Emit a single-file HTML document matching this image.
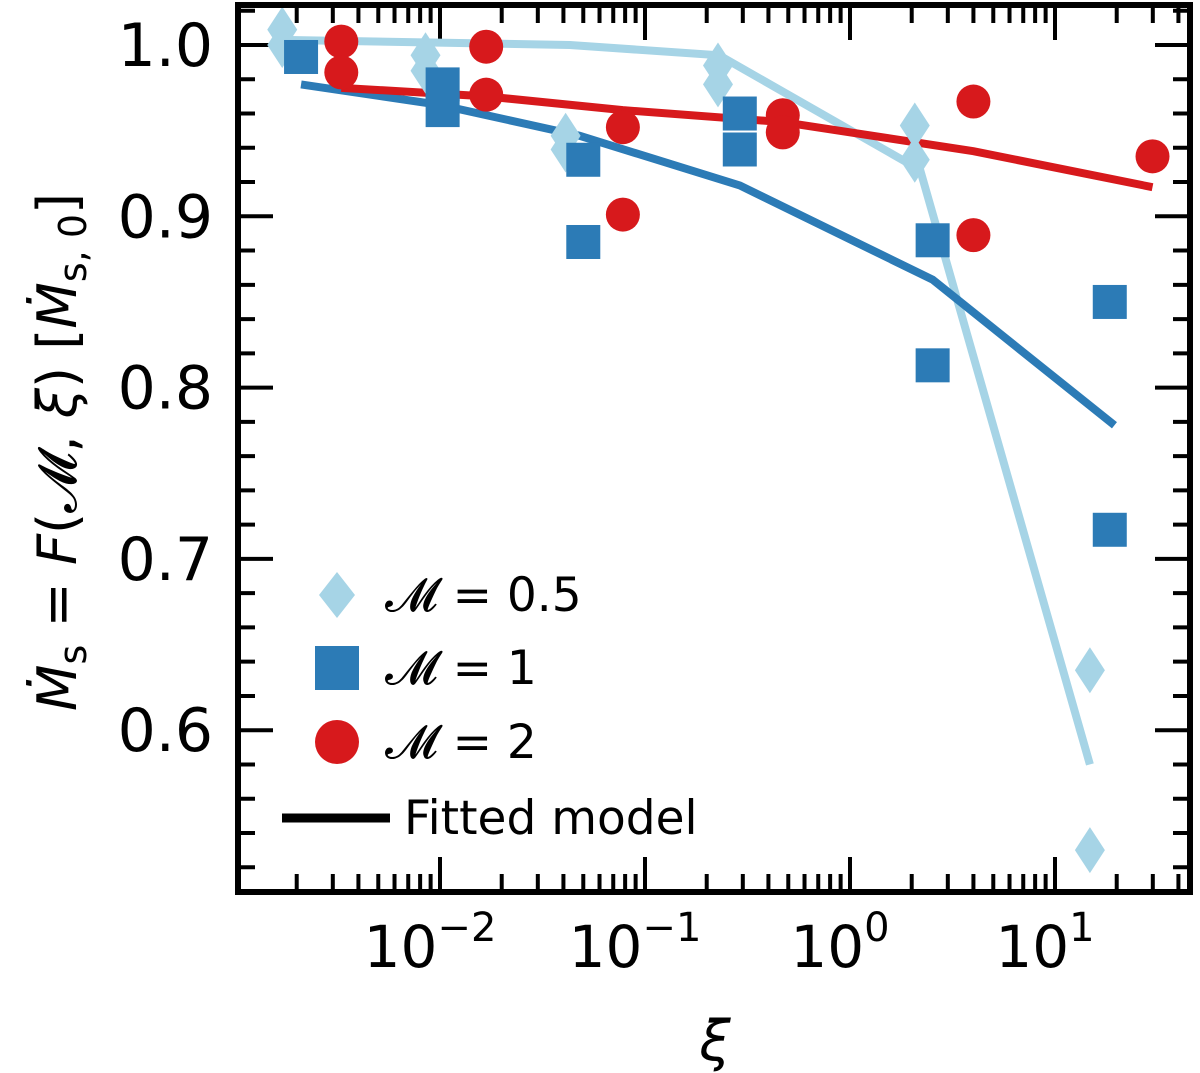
<!DOCTYPE html>
<html><head><meta charset="utf-8"><style>body{margin:0;background:#fff}svg{display:block}</style></head>
<body>
<svg id="chart" width="1200" height="1073" xmlns="http://www.w3.org/2000/svg" font-family="'DejaVu Sans','Liberation Sans',sans-serif"></svg>
<script>
const xs05 = [0.0017,0.0017,0.0085,0.0085,0.041,0.041,0.227,0.227,2.07,2.07,14.8,14.8];
const ys05 = [1.009,1.0,0.994,0.985,0.947,0.939,0.988,0.977,0.953,0.933,0.635,0.530];
const fitX05 = [0.0017,0.043,0.23,2.2,14.8];
const fitY05 = [1.003,1.0,0.994,0.927,0.580];
const xs1 = [0.0021,0.0103,0.0103,0.050,0.050,0.29,0.29,2.53,2.53,18.5,18.5];
const ys1 = [0.993,0.977,0.962,0.933,0.885,0.960,0.939,0.886,0.813,0.850,0.717];
const fitX1 = [0.0021,0.01,0.048,0.29,2.53,19.5];
const fitY1 = [0.977,0.965,0.947,0.918,0.863,0.778];
const xs2 = [0.0033,0.0033,0.0168,0.0168,0.078,0.078,0.47,0.47,4.0,4.0,29.9];
const ys2 = [1.002,0.984,0.999,0.971,0.952,0.901,0.959,0.949,0.967,0.889,0.935];
const fitX2 = [0.0033,0.0168,0.078,0.47,4.0,29.9];
const fitY2 = [0.975,0.970,0.962,0.955,0.938,0.917];
const yTicks = [0.6,0.7,0.8,0.9,1.0];
const yTickLabels = ["0.6","0.7","0.8","0.9","1.0"];
const xTickExps = [-2,-1,0,1];

const L=238,R=1190,T=5,B=892;
const X=v=>440+(Math.log10(v)+2)*205;
const Y=v=>45+(1.0-v)*1713;
const C1='#a6d4e6',C2='#2c7bb6',C3='#d7191c';
const svg=document.getElementById('chart');
const NS='http://www.w3.org/2000/svg';
function mk(t,a,p){const e=document.createElementNS(NS,t);for(const k in a)e.setAttribute(k,a[k]);(p||svg).appendChild(e);return e;}

const tg=mk('g',{stroke:'#000','stroke-width':4});


for(let k=26;k<=52;k++){const v=k*0.02;const y=Y(v);if(y<T+3||y>B-3)continue;const major=(k%5==0);const len=major?35:17;
 mk('line',{x1:L,x2:L+len,y1:y,y2:y},tg);mk('line',{x1:R,x2:R-len,y1:y,y2:y},tg);}
for(let e=-3;e<=1;e++){for(let m=1;m<10;m++){const v=m*Math.pow(10,e);const x=X(v);if(x<L+3||x>R-3)continue;const len=m==1?35:18;
 mk('line',{x1:x,x2:x,y1:B,y2:B-len},tg);mk('line',{x1:x,x2:x,y1:T,y2:T+len},tg);}}
yTicks.forEach((v,i)=>{const t=mk('text',{x:213,y:Y(v)+21,'text-anchor':'end','font-size':60});t.textContent=yTickLabels[i];
 });
xTickExps.forEach(e=>{const t=mk('text',{x:X(Math.pow(10,e))-10,y:967,'text-anchor':'middle','font-size':58});
 t.innerHTML='10<tspan dy="-26" font-size="40">'+(e<0?'−'+(-e):e)+'</tspan>';
 });

function line(xs,ys,c,name){const g=mk('polyline',{points:xs.map((x,i)=>X(x)+','+Y(ys[i])).join(' '),fill:'none',stroke:c,'stroke-width':8});
 }
function diamond(cx,cy,c,p){return mk('polygon',{points:`${cx},${cy-23} ${cx+15},${cy} ${cx},${cy+23} ${cx-15},${cy}`,fill:c},p);}
function square(cx,cy,c,p){return mk('rect',{x:cx-17,y:cy-17,width:34,height:34,fill:c},p);}
function circle(cx,cy,c,p){return mk('circle',{cx,cy,r:17,fill:c},p);}

line(fitX05,fitY05,C1,'fit-line-m05');
line(fitX1,fitY1,C2,'fit-line-m1');
line(fitX2,fitY2,C3,'fit-line-m2');
xs05.forEach((x,i)=>{const e=diamond(X(x),Y(ys05[i]),C1);});
xs1.forEach((x,i)=>{const e=square(X(x),Y(ys1[i]),C2);});
xs2.forEach((x,i)=>{const e=circle(X(x),Y(ys2[i]),C3);});

const lg=mk('g',{});


mk('polygon',{points:'337,572 355,595 337,618 319,595',fill:C1},lg);
mk('rect',{x:315,y:646,width:44,height:44,fill:C2},lg);
mk('circle',{cx:337,cy:742,r:22,fill:C3},lg);
mk('line',{x1:282,x2:390,y1:818,y2:818,stroke:'#000','stroke-width':9},lg);
[['𝓜 = 0.5',611],['𝓜 = 1',684],['𝓜 = 2',758],['Fitted model',834]].forEach((d,i)=>{const t=mk('text',{x:i==3?404:385,y:d[1],'font-size':47},lg);t.textContent=d[0];});

mk('rect',{x:L,y:T,width:R-L,height:B-T,fill:'none',stroke:'#000','stroke-width':6});

const xl=mk('text',{x:715,y:1060,'text-anchor':'middle','font-size':56,'font-style':'italic'});xl.textContent='ξ';

const yl=mk('text',{x:0,y:0,'text-anchor':'middle','font-size':54,transform:'translate(76,452) rotate(-90)'});
yl.innerHTML='<tspan font-style="italic">Ṁ</tspan><tspan font-size="38" dy="10">s</tspan><tspan dy="-10"> = </tspan><tspan font-style="italic">F</tspan>(𝓜, <tspan font-style="italic">ξ</tspan>) [<tspan font-style="italic">Ṁ</tspan><tspan font-size="38" dy="10">s, 0</tspan><tspan dy="-10">]</tspan>';

</script>
</body></html>
